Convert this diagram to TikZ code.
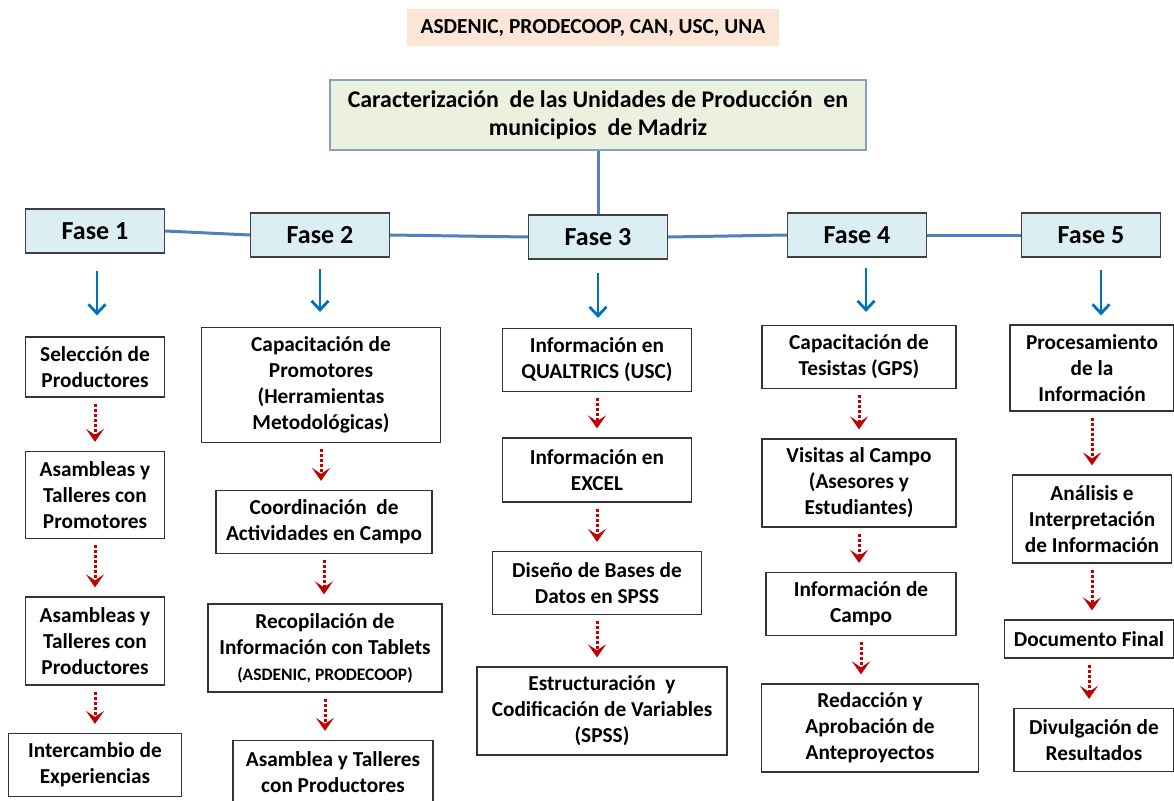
\documentclass[tikz,border=0pt]{standalone}
\usepackage{fontspec}
\setmainfont{Carlito}
\usetikzlibrary{arrows.meta}

\definecolor{salmon}{RGB}{251,229,214}
\definecolor{lightgreen}{RGB}{235,241,222}
\definecolor{titleborder}{RGB}{134,160,196}
\definecolor{lightblue}{RGB}{219,238,243}
\definecolor{lineblue}{RGB}{79,129,189}
\definecolor{arrowblue}{RGB}{0,112,192}
\definecolor{darkred}{RGB}{192,0,0}

\tikzset{
        caja/.style={shape=rectangle,draw=black!80,line width=1.2pt,fill=white,inner sep=0pt,align=center,font=\fontsize{21.3}{26}\selectfont\bfseries},
        fase/.style={shape=rectangle,draw=black!75,line width=1.4pt,fill=lightblue,minimum width=139,minimum height=44,inner sep=0pt,font=\fontsize{26}{30}\selectfont\bfseries},
        enlace/.style={draw=lineblue,line width=3pt},
        bajada/.style={draw=arrowblue,line width=2.8pt,shorten <=12pt,shorten >=12pt,-{Straight Barb[length=9pt,width=17pt,line width=2.8pt]}},
        paso/.style={draw=darkred,line width=3pt,dash pattern=on 3pt off 2pt,shorten <=6pt,shorten >=9pt,-{Stealth[length=13pt,width=18pt,inset=6pt]}}
}

\begin{document}
\begin{tikzpicture}[x=1pt,y=-1pt]
        \useasboundingbox (0,0) rectangle (1174,800);
        \node[shape=rectangle,fill=salmon,minimum width=372,minimum height=37,inner sep=0pt,font=\fontsize{21.4}{24}\selectfont\bfseries](socios) at (593,28) {ASDENIC, PRODECOOP, CAN, USC, UNA};
        \node[shape=rectangle,draw=titleborder,line width=2pt,fill=lightgreen,minimum width=536,minimum height=70,inner sep=0pt,align=center,font=\fontsize{23.9}{28}\selectfont\bfseries](titulo) at (598,115) {Caracterización\ \ de las Unidades de Producción\ \ en\\municipios\ \ de Madriz};

        % fases
        \node[fase](f1) at (95,231) {Fase 1};
        \node[fase](f2) at (320,235) {Fase 2};
        \node[fase](f3) at (598,237) {Fase 3};
        \node[fase](f4) at (857,235) {Fase 4};
        \node[fase](f5) at (1091,235) {Fase 5};

        % fase 1
        \node[caja,minimum width=139,minimum height=60](s1) at (95,367) {Selección de\\Productores};
        \node[caja,minimum width=139,minimum height=87](s2) at (95,495) {Asambleas y\\Talleres con\\Promotores};
        \node[caja,minimum width=139,minimum height=88](s3) at (95,641) {Asambleas y\\Talleres con\\Productores};
        \node[caja,minimum width=173,minimum height=63](s4) at (95,765) {Intercambio de\\Experiencias};

        % fase 2
        \node[caja,minimum width=239,minimum height=115](c1) at (321,385) {Capacitación de\\Promotores\\(Herramientas\\Metodológicas)};
        \node[caja,minimum width=216,minimum height=63](c2) at (324,522) {Coordinación\ \ de\\Actividades en Campo};
        \node[caja,minimum width=234,minimum height=88](c3) at (325,648) {Recopilación de\\Información con Tablets\\{\fontsize{17.5}{22}\selectfont(ASDENIC, PRODECOOP)}};
        \node[caja,minimum width=200,minimum height=63](c4) at (333,772) {Asamblea y Talleres\\con Productores};

        % fase 3
        \node[caja,minimum width=189,minimum height=63](t1) at (597,360) {Información en\\QUALTRICS (USC)};
        \node[caja,minimum width=189,minimum height=64](t2) at (597,470) {Información en\\EXCEL};
        \node[caja,minimum width=209,minimum height=63](t3) at (597,583) {Diseño de Bases de\\Datos en SPSS};
        \node[caja,minimum width=250,minimum height=88](t4) at (602,711) {Estructuración\ \ y\\Codificación de Variables\\(SPSS)};

        % fase 4
        \node[caja,minimum width=194,minimum height=63](k1) at (859,357) {Capacitación de\\Tesistas (GPS)};
        \node[caja,minimum width=194,minimum height=88](k2) at (859,483) {Visitas al Campo\\(Asesores y\\Estudiantes)};
        \node[caja,minimum width=190,minimum height=63](k3) at (861,604) {Información de\\Campo};
        \node[caja,minimum width=217,minimum height=88](k4) at (870,728) {Redacción y\\Aprobación de\\Anteproyectos};

        % fase 5
        \node[caja,minimum width=164,minimum height=86](p1) at (1092,368) {Procesamiento\\de la\\Información};
        \node[caja,minimum width=159,minimum height=88](p2) at (1092,519) {Análisis e\\Interpretación\\de Información};
        \node[caja,minimum width=169,minimum height=38](p3) at (1089,639) {Documento Final};
        \node[caja,minimum width=160,minimum height=63](p4) at (1094,740) {Divulgación de\\Resultados};

        % lineas
        \draw[enlace] (titulo.south) -- (f3.north);
        \draw[enlace] (f1.east) -- (f2.west);
        \draw[enlace] (f2.east) -- (f3.west);
        \draw[enlace] (f3.east) -- (f4.west);
        \draw[enlace] (f4.east) -- (f5.west);

        \draw[bajada,shorten <=17pt,shorten >=21pt] ([xshift=2]f1.south) -- ([xshift=2]f1.south |- s1.north);
        \draw[bajada,shorten <=11pt,shorten >=15pt] (f2.south) -- (f2.south |- c1.north);
        \draw[bajada,shorten <=13pt,shorten >=10pt] (f3.south) -- (f3.south |- t1.north);
        \draw[bajada,shorten <=10pt,shorten >=13pt] ([xshift=9]f4.south) -- ([xshift=9]f4.south |- k1.north);
        \draw[bajada,shorten <=12pt,shorten >=9pt] ([xshift=10]f5.south) -- ([xshift=10]f5.south |- p1.north);

        \foreach \a/\b in {s1/s2,s2/s3,s3/s4,c1/c2,c2/c3,c3/c4,t1/t2,t2/t3,t3/t4,k1/k2,k2/k3,k3/k4,p1/p2,p2/p3,p3/p4}
                \draw[paso] (\a.south) -- (\a.south |- \b.north);
\end{tikzpicture}
\end{document}
